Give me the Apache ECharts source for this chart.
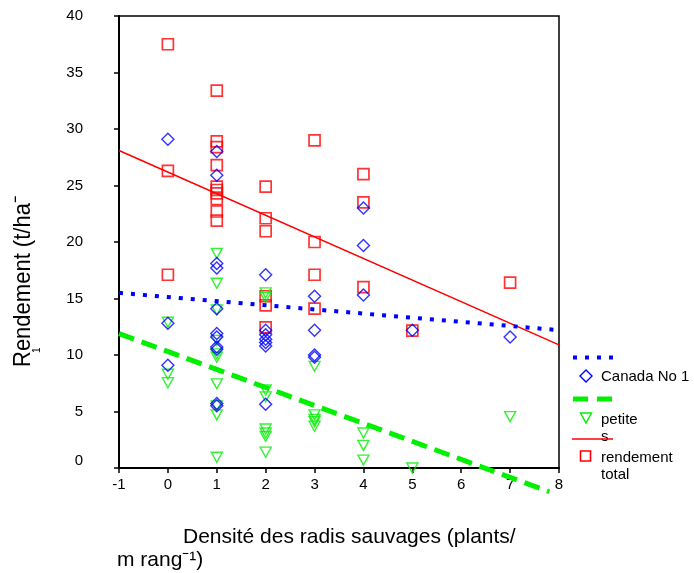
<!DOCTYPE html>
<html>
<head>
<meta charset="utf-8">
<script src="https://cdn.jsdelivr.net/npm/echarts@6/dist/echarts.min.js"></script>
<style>
html, body { margin: 0; padding: 0; background: #fff; }
#main { width: 694px; height: 573px; }
</style>
</head>
<body>
<div id="main"></div>
<script>
// Canada No 1 (losanges bleus)
var canadaX = [0, 0, 0, 1, 1, 1, 1, 1, 1, 1, 1, 1, 1, 1, 2, 2, 2, 2, 2, 2, 2, 3, 3, 3, 3, 4, 4, 4, 5, 7];
var canadaY = [29.1, 12.8, 9.1, 28.0, 25.9, 18.1, 17.7, 14.1, 11.9, 11.6, 10.7, 10.5, 5.7, 5.5,
               17.1, 12.2, 11.8, 11.4, 11.1, 10.8, 5.65, 15.2, 12.2, 10.0, 9.8, 23.0, 19.7, 15.3, 12.2, 11.6];

// petites (triangles verts)
var petitesX = [0, 0, 0, 1, 1, 1, 1, 1, 1, 1, 1, 1, 1, 2, 2, 2, 2, 2, 2, 2, 2, 3, 3, 3, 3, 3, 4, 4, 4, 5, 7];
var petitesY = [12.9, 8.3, 7.55, 19.0, 16.35, 14.0, 11.3, 10.1, 9.8, 7.45, 5.5, 4.7, 0.95,
                15.5, 15.1, 6.9, 6.3, 3.45, 3.1, 2.8, 1.4, 9.0, 4.7, 4.3, 4.1, 3.7, 3.1, 2.0, 0.7, 0.0, 4.55];

// rendement total (carrés rouges)
var totalX = [0, 0, 0, 1, 1, 1, 1, 1, 1, 1, 1, 1, 1, 2, 2, 2, 2, 2, 2, 3, 3, 3, 3, 4, 4, 4, 5, 7];
var totalY = [37.5, 26.3, 17.1, 33.4, 28.9, 28.4, 26.8, 24.9, 24.6, 24.3, 23.8, 22.7, 21.9,
              24.9, 22.1, 20.95, 15.2, 14.4, 12.45, 29.0, 20.0, 17.1, 14.1, 26.0, 23.5, 16.0, 12.15, 16.4];

// droites de régression
var fitX = [-1, 8];
var canadaFit = [15.5, 12.2];
var totalFit = [28.1, 10.9];
var petitesFitX = [-1, 7.8];
var petitesFit = [11.9, -2.1];

var xTicks = [-1, 0, 1, 2, 3, 4, 5, 6, 7, 8];
var yTicks = [0, 5, 10, 15, 20, 25, 30, 35, 40];

function pairs(xs, ys) {
    var out = [];
    for (var i = 0; i < xs.length; i++) {
        out.push([xs[i], ys[i]]);
    }
    return out;
}

var FONT = '"Liberation Sans", Arial, sans-serif';
var BLUE = '#0000ff', GREEN = '#00f000', RED = '#ff0000';

var myChart = echarts.init(document.getElementById('main'));

var option = {
    backgroundColor: '#fff',
    animation: false,
    textStyle: { fontFamily: FONT },
    grid: {
        left: 119, top: 16, right: 135, bottom: 105,
        show: true,
        borderColor: '#000',
        borderWidth: 1.5,
        backgroundColor: 'transparent'
    },
    xAxis: {
        type: 'value',
        min: xTicks[0],
        max: xTicks[xTicks.length - 1],
        interval: 1,
        axisLine: { onZero: false, lineStyle: { color: '#000', width: 2 } },
        axisTick: { show: true, length: 5, lineStyle: { color: '#000', width: 1.5 } },
        axisLabel: { color: '#000', fontSize: 15, margin: 9, fontFamily: FONT },
        splitLine: { show: false }
    },
    yAxis: {
        type: 'value',
        min: yTicks[0],
        max: yTicks[yTicks.length - 1],
        interval: 5,
        axisLine: { onZero: false, lineStyle: { color: '#000', width: 2 } },
        axisTick: { show: true, length: 5, lineStyle: { color: '#000', width: 1.5 } },
        axisLabel: { color: '#000', fontSize: 15, margin: 36, fontFamily: FONT, verticalAlignMinLabel: 'bottom' },
        splitLine: { show: false }
    },
    series: [
        {
            name: 'rendement total',
            type: 'scatter',
            symbol: 'rect',
            symbolSize: 11,
            itemStyle: { color: 'rgba(0,0,0,0)', borderColor: RED, borderWidth: 1.7 },
            data: pairs(totalX, totalY),
            z: 2
        },
        {
            name: 'petites',
            type: 'scatter',
            symbol: 'triangle',
            symbolRotate: 180,
            symbolSize: [11, 10],
            itemStyle: { color: 'rgba(0,0,0,0)', borderColor: GREEN, borderWidth: 1.4 },
            data: pairs(petitesX, petitesY),
            z: 3
        },
        {
            name: 'Canada No 1',
            type: 'scatter',
            symbol: 'diamond',
            symbolSize: 12,
            itemStyle: { color: 'rgba(0,0,0,0)', borderColor: BLUE, borderWidth: 1.4 },
            data: pairs(canadaX, canadaY),
            z: 4
        },
        {
            name: 'fit total',
            type: 'line',
            showSymbol: false,
            clip: false,
            lineStyle: { color: RED, width: 1.5 },
            data: pairs(fitX, totalFit),
            z: 5
        },
        {
            name: 'fit petites',
            type: 'line',
            showSymbol: false,
            clip: false,
            lineStyle: { color: GREEN, width: 5, type: [16, 8], cap: 'butt' },
            data: pairs(petitesFitX, petitesFit),
            z: 5
        },
        {
            name: 'fit canada',
            type: 'line',
            showSymbol: false,
            clip: false,
            lineStyle: { color: BLUE, width: 4, type: [4, 8], cap: 'butt' },
            data: pairs(fitX, canadaFit),
            z: 6
        }
    ],
    graphic: [
        // titre axe Y
        {
            type: 'text', x: 23, y: 367, rotation: Math.PI / 2, scaleY: 1.12,
            style: { text: 'Rendement (t/ha\u207B', fill: '#000', font: '22px ' + FONT, textAlign: 'left', textVerticalAlign: 'middle' }
        },
        {
            type: 'text', x: 37, y: 353, rotation: Math.PI / 2,
            style: { text: '1', fill: '#000', font: '10px ' + FONT, textAlign: 'left', textVerticalAlign: 'middle' }
        },
        // titre axe X
        {
            type: 'text', x: 183, y: 537,
            style: { text: 'Densité des radis sauvages (plants/', fill: '#000', font: '21px ' + FONT, textAlign: 'left', textVerticalAlign: 'middle' }
        },
        {
            type: 'text', x: 117, y: 560,
            style: { text: 'm rang\u207B\u00B9)', fill: '#000', font: '21px ' + FONT, textAlign: 'left', textVerticalAlign: 'middle' }
        },
        // légende
        {
            type: 'line', shape: { x1: 573, y1: 357.5, x2: 614, y2: 357.5 },
            style: { stroke: BLUE, lineWidth: 4, lineDash: [4, 8] }
        },
        {
            type: 'polygon', shape: { points: [[586, 370], [592, 376], [586, 382], [580, 376]] },
            style: { stroke: BLUE, lineWidth: 1.4, fill: 'none' }
        },
        {
            type: 'text', x: 601, y: 377,
            style: { text: 'Canada No 1', fill: '#000', font: '15px ' + FONT, textAlign: 'left', textVerticalAlign: 'middle' }
        },
        {
            type: 'line', shape: { x1: 573, y1: 399, x2: 613, y2: 399 },
            style: { stroke: GREEN, lineWidth: 5, lineDash: [15, 9] }
        },
        {
            type: 'polygon', shape: { points: [[580.5, 413], [591.5, 413], [586, 423]] },
            style: { stroke: GREEN, lineWidth: 1.4, fill: 'none' }
        },
        {
            type: 'text', x: 601, y: 411,
            style: { text: 'petite\ns', fill: '#000', font: '15px ' + FONT, lineHeight: 17, textAlign: 'left', textVerticalAlign: 'top' }
        },
        {
            type: 'line', shape: { x1: 572, y1: 439, x2: 613, y2: 439 },
            style: { stroke: RED, lineWidth: 1.5 }
        },
        {
            type: 'rect', shape: { x: 580.5, y: 451, width: 10, height: 10 },
            style: { stroke: RED, lineWidth: 1.6, fill: 'none' }
        },
        {
            type: 'text', x: 601, y: 449,
            style: { text: 'rendement\ntotal', fill: '#000', font: '15px ' + FONT, lineHeight: 17, textAlign: 'left', textVerticalAlign: 'top' }
        }
    ]
};

myChart.setOption(option);
</script>
</body>
</html>
